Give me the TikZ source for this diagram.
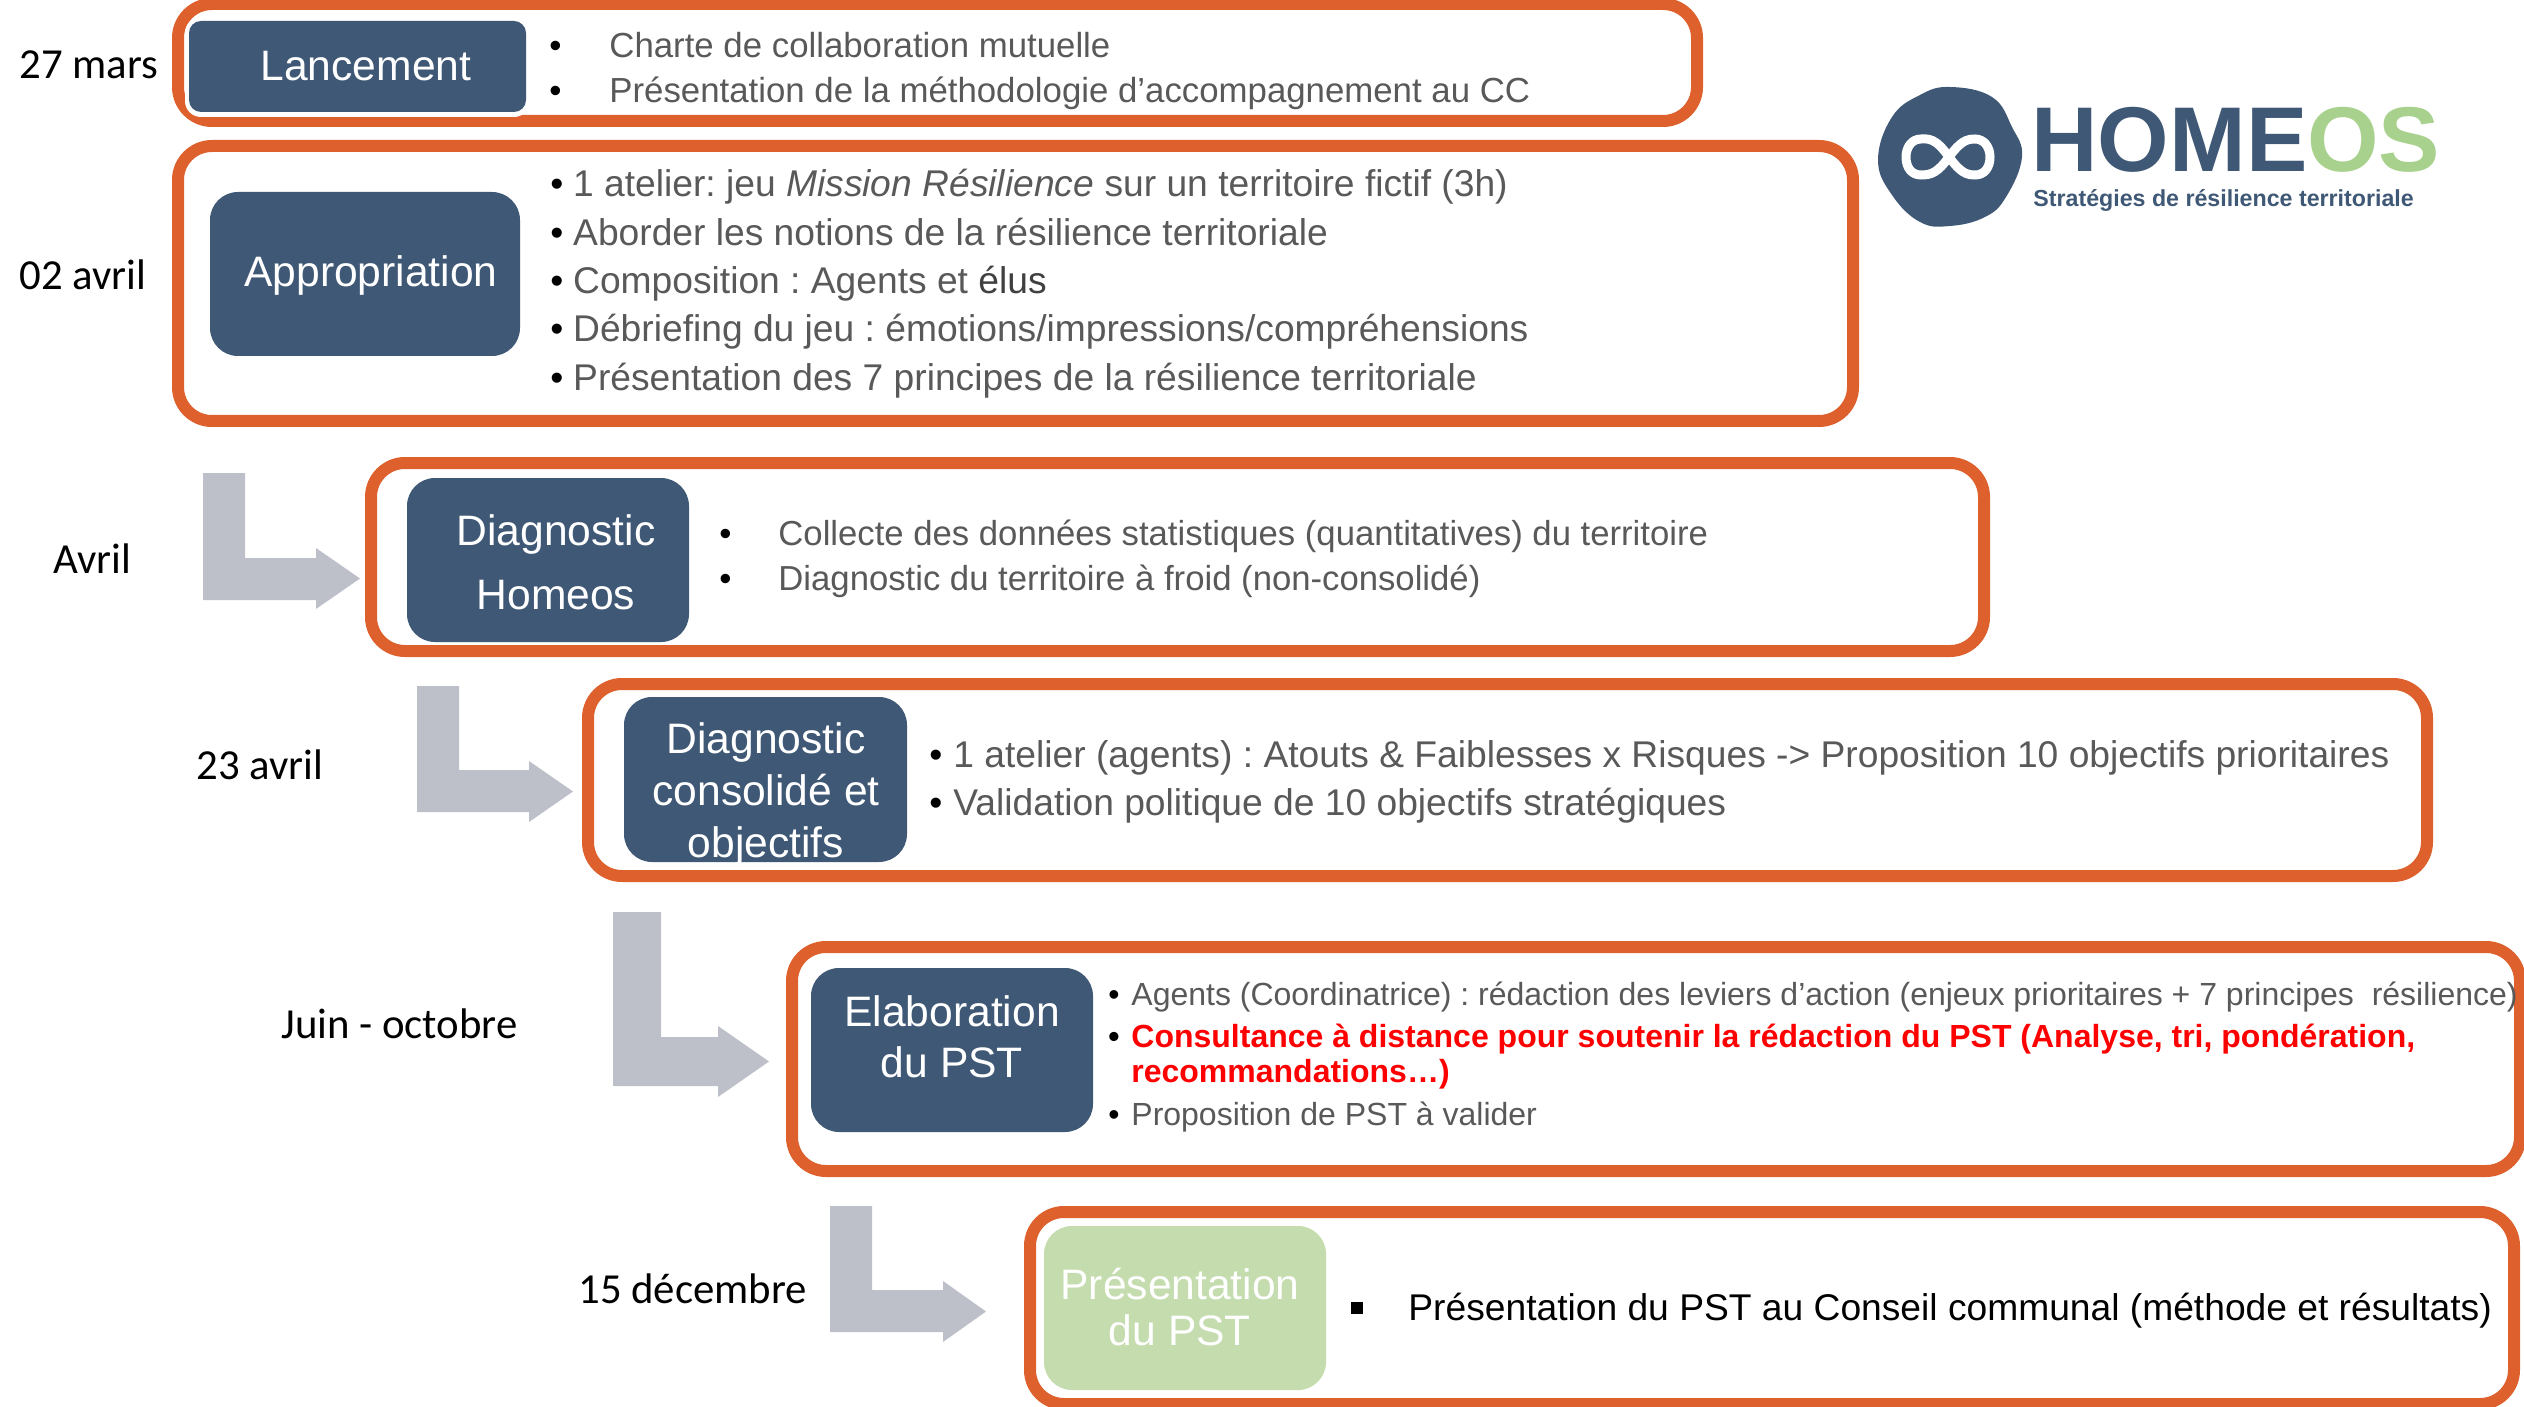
\documentclass[tikz,border=0pt]{standalone}
\usepackage{fontspec}
\setmainfont{Liberation Sans}
\newfontfamily\carlito{Carlito}
\frenchspacing
\definecolor{hblue}{HTML}{3F5875}
\definecolor{horange}{HTML}{DD602D}
\definecolor{hgrey}{HTML}{BDC0C9}
\definecolor{htext}{HTML}{595959}
\definecolor{hdark}{HTML}{404040}
\definecolor{hgreen}{HTML}{C5DCAF}
\definecolor{hlogo}{HTML}{A9D18E}
\tikzset{
 x=0.5pt,y=-0.5pt,
 framebox/.style={draw=horange,line width=6pt,rounded corners=17pt,fill=white,inner sep=0pt,outer sep=0pt},
 bluebox/.style={fill=hblue,rounded corners=14pt,inner sep=0pt,outer sep=0pt},
 greenbox/.style={fill=hgreen,rounded corners=14pt,inner sep=0pt,outer sep=0pt},
 halobox/.style={fill=white,rounded corners=8pt,inner sep=0pt,outer sep=0pt},
 boxtxt/.style={text=white,align=center,inner sep=0pt,font=\fontsize{21.3}{21.3}\selectfont},
 datetxt/.style={anchor=base west,inner sep=0pt,text=black,font=\carlito\fontsize{21.4}{24}\selectfont},
 item/.style={anchor=base west,inner sep=0pt,text=htext},
 blockarrow/.style={fill=hgrey,draw=none},
}
\newcommand{\rbox}[7]{% style, name, x0,y0,x1,y1, text
 \pgfmathsetmacro{\bw}{(#5-#3)*0.5}\pgfmathsetmacro{\bh}{(#6-#4)*0.5}
 \node[#1,minimum width=\bw pt,minimum height=\bh pt] (#2) at ({(#3+#5)/2},{(#4+#6)/2}) {#7};}
\newcommand{\larrow}[9]{% x0,xs,xh,xt, ytop,yel,ybot,yhtop,yhbot
 \fill[blockarrow] (#1,#5) -- (#2,#5) -- (#2,#6) -- (#3,#6) -- (#3,#8) -- (#4,{(#8+#9)/2}) -- (#3,#9) -- (#3,#7) -- (#1,#7) -- cycle;}
\newcommand{\bul}[2][1.0]{\makebox[#2][l]{\textcolor{black}{•}}}
\begin{document}
\begin{tikzpicture}
\useasboundingbox (0,0) rectangle (2524,1407);
% frames
\rbox{framebox}{f1}{178}{4}{1697}{121}{}
\rbox{framebox}{f2}{178}{146}{1853}{421}{}
\rbox{framebox}{f3}{371}{463}{1984}{651}{}
\rbox{framebox}{f4}{588}{684}{2427}{876}{}
\rbox{framebox}{f5}{792}{947}{2520}{1171}{}
\rbox{framebox}{f6}{1030}{1212}{2514}{1404}{}
% boxes
\rbox{halobox}{h1}{185}{17}{530}{117}{}
\rbox{bluebox,rounded corners=6pt}{b1}{189}{21}{526}{112}{}
\rbox{bluebox}{b2}{210}{192}{520}{356}{}
\rbox{bluebox}{b3}{407}{478}{689}{642}{}
\rbox{bluebox}{b4}{624}{697}{907}{862}{}
\rbox{bluebox}{b5}{811}{968}{1093}{1132}{}
\rbox{greenbox}{b6}{1044}{1226}{1326}{1390}{}
\node[boxtxt] (t1) at (366,66) {Lancement};
\node[boxtxt] (t2) at (371,275) {Appropriation};
\node[boxtxt,font=\fontsize{21.3}{32}\selectfont] (t3) at (556,562) {Diagnostic\\Homeos};
\node[boxtxt,font=\fontsize{21.3}{26}\selectfont] (t4) at (766,794) {Diagnostic\\consolidé et\\objectifs};
\node[boxtxt,font=\fontsize{21.3}{25.5}\selectfont] (t5) at (952,1037) {Elaboration\\du PST};
\node[boxtxt,font=\fontsize{21.3}{23}\selectfont] (t6) at (1180,1307) {Présentation\\du PST};
% arrows
\larrow{203}{245}{316}{360}{473}{558}{600}{548}{609}
\larrow{417}{459}{529}{573}{686}{770}{812}{761}{822}
\larrow{613}{661}{718}{769}{912}{1037}{1086}{1026}{1097}
\larrow{830}{872}{943}{986}{1206}{1290}{1332}{1281}{1342}
% dates
\node[datetxt] (d1) at (19,79) {27 mars};
\node[datetxt] (d2) at (19,290) {02 avril};
\node[datetxt] (d3) at (53,573) {Avril};
\node[datetxt] (d4) at (196,779) {23 avril};
\node[datetxt] (d5) at (281,1038) {Juin - octobre};
\node[datetxt] (d6) at (578,1303) {15 décembre};
% items
\tikzset{r1/.style={item,font=\fontsize{17.4}{20}\selectfont},
 r2/.style={item,font=\fontsize{18.6}{20}\selectfont},
 r3/.style={item,font=\fontsize{17.35}{20}\selectfont},
 r4/.style={item,font=\fontsize{18.6}{20}\selectfont},
 r5/.style={item,font=\fontsize{16}{20}\selectfont}}
\node[r1] (i11) at (549,58) {\bul{30pt}Charte de collaboration mutuelle};
\node[r1] (i12) at (549,103) {\bul{30pt}Présentation de la méthodologie d’accompagnement au CC};
\node[r2] (i21) at (550,197) {\bul{11.4pt}1 atelier: jeu \textit{Mission Résilience} sur un territoire fictif (3h)};
\node[r2] (i22) at (550,246) {\bul{11.4pt}Aborder les notions de la résilience territoriale};
\node[r2] (i23) at (550,294) {\bul{11.4pt}Composition : Agents et \textcolor{hdark}{élus}};
\node[r2] (i24) at (550,342) {\bul{11.4pt}Débriefing du jeu : émotions/impressions/compréhensions};
\node[r2] (i25) at (550,391) {\bul{11.4pt}Présentation des 7 principes de la résilience territoriale};
\node[r3] (i31) at (719,545) {\bul{29.5pt}Collecte des données statistiques (quantitatives) du territoire};
\node[r3] (i32) at (719,590) {\bul{29.5pt}Diagnostic du territoire à froid (non-consolidé)};
\node[r4] (i41) at (929,767) {\bul{12pt}1 atelier (agents) : Atouts \& Faiblesses x Risques -> Proposition 10 objectifs prioritaires};
\node[r4] (i42) at (929,815) {\bul{12pt}Validation politique de 10 objectifs stratégiques};
\node[r5] (i51) at (1108,1005) {\bul{11.5pt}Agents (Coordinatrice) : rédaction des leviers d’action (enjeux prioritaires + 7 principes\ \ résilience)};
\node[r5,text=red,font=\bfseries\fontsize{16}{20}\selectfont] (i52) at (1108,1047) {\bul{11.5pt}Consultance à distance pour soutenir la rédaction du PST (Analyse, tri, pondération,};
\node[r5,text=red,font=\bfseries\fontsize{16}{20}\selectfont] (i53) at (1131,1082) {recommandations…)};
\node[r5] (i54) at (1108,1125) {\bul{11.5pt}Proposition de PST à valider};
\node[item,text=black,font=\fontsize{18.6}{20}\selectfont] (i61) at (1408,1320) {Présentation du PST au Conseil communal (méthode et résultats)};
\fill[black] (1351,1302) rectangle (1363,1314);
% logo
\fill[hblue] plot[smooth cycle,tension=0.7] coordinates {(1950,87) (1992,97) (2012,127) (2022,157) (2006,197) (1985,217) (1950,226) (1920,222) (1892,195) (1878,160) (1892,117) (1920,95)};
\draw[white,line width=4.5pt] (1949,157) .. controls (1935,137) and (1928,139) .. (1921,139) .. controls (1912,139) and (1906,147) .. (1906,157) .. controls (1906,168) and (1912,175) .. (1921,175) .. controls (1932,175) and (1938,172) .. (1949,157) .. controls (1960,142) and (1966,139) .. (1975,139) .. controls (1984,139) and (1990,147) .. (1990,157) .. controls (1990,168) and (1984,175) .. (1975,175) .. controls (1966,175) and (1960,172) .. (1949,157) -- cycle;
\node[anchor=base west,inner sep=0pt,font=\bfseries\fontsize{46}{50}\selectfont] (logo) at (2031,172) {\textcolor{hblue}{HOME}\textcolor{hlogo}{OS}};
\node[anchor=base west,inner sep=0pt,text=hblue,font=\bfseries\fontsize{11.6}{14}\selectfont] (logosub) at (2033,207) {Stratégies de résilience territoriale};
\end{tikzpicture}
\end{document}
